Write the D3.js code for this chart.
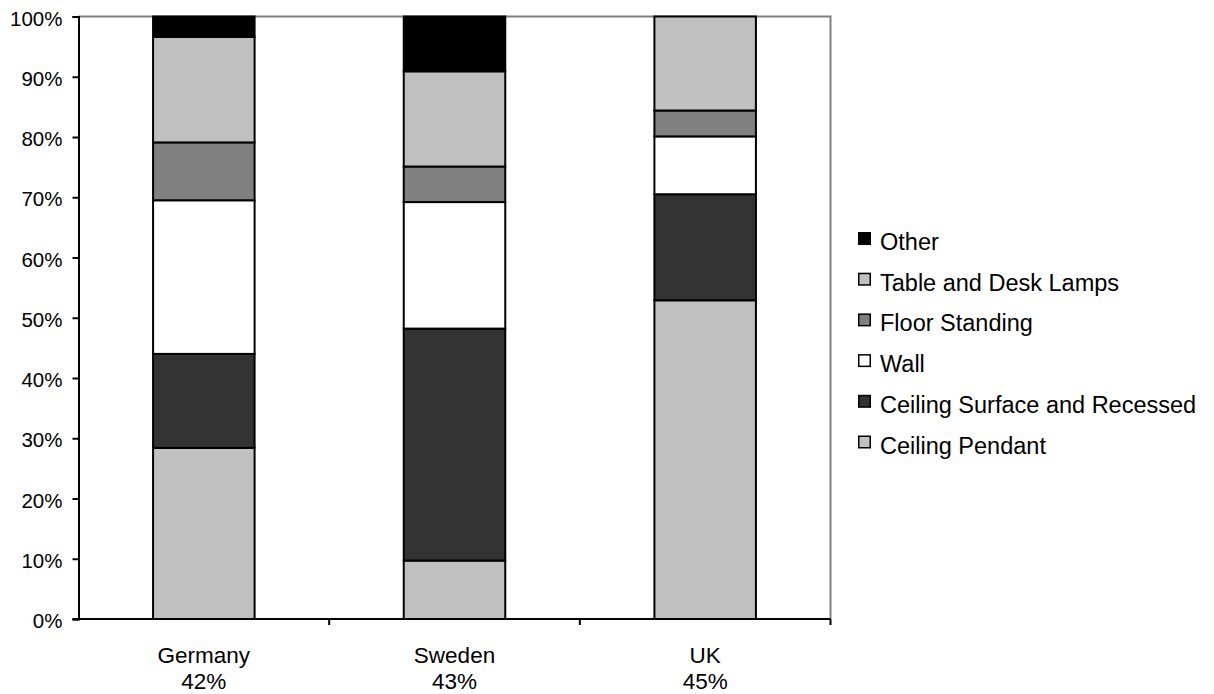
<!DOCTYPE html>
<html>
<head>
<meta charset="utf-8">
<script src="https://cdn.jsdelivr.net/npm/d3@7"></script>
<style>
  html, body { margin: 0; padding: 0; background: #fff; }
  svg { display: block; font-family: Arial, "Liberation Sans", sans-serif; }
</style>
</head>
<body>
<svg id="chart" width="1214" height="694"></svg>
<script>
// Market split of decorative lighting by product type (per cent of each country's total)
const countries = ["Germany", "Sweden", "UK"];
const countryShares = ["42%", "43%", "45%"];
const seriesNames = ["Ceiling Pendant", "Ceiling Surface and Recessed", "Wall", "Floor Standing", "Table and Desk Lamps", "Other"];
const ceilingPendant = [28.4, 9.7, 52.9];
const ceilingSurface = [15.6, 38.5, 17.6];
const wall = [25.5, 21.0, 9.6];
const floorStanding = [9.6, 5.9, 4.3];
const tableDesk = [17.5, 15.8, 15.6];
const other = [3.4, 9.1, 0];
const yTicks = [0, 0.1, 0.2, 0.3, 0.4, 0.5, 0.6, 0.7, 0.8, 0.9, 1];

const seriesValues = [ceilingPendant, ceilingSurface, wall, floorStanding, tableDesk, other];
const fills = ["#c0c0c0", "#333333", "#ffffff", "#808080", "#c0c0c0", "#000000"];

const rows = countries.map((c, i) => {
  const r = { country: c };
  seriesNames.forEach((s, k) => { r[s] = seriesValues[k][i]; });
  return r;
});

const svg = d3.select("#chart");
const plot = { left: 78.5, top: 16.5, right: 830.5, bottom: 619 };

const x = d3.scaleBand().domain(countries).range([plot.left, plot.right]).paddingInner(0).paddingOuter(0);
const y = d3.scaleLinear().domain([0, 1]).range([plot.bottom, plot.top]);
const color = d3.scaleOrdinal().domain(seriesNames).range(fills);

const stacked = d3.stack().keys(seriesNames).offset(d3.stackOffsetExpand)(rows);

// plot area frame: grey top and right edges
svg.append("path")
  .attr("d", `M${plot.left},${plot.top}H${plot.right}V${plot.bottom}`)
  .attr("fill", "none").attr("stroke", "#808080").attr("stroke-width", 2);

const barW = x.bandwidth() * 0.405;
svg.append("g").selectAll("g")
  .data(stacked)
  .join("g")
  .attr("fill", d => color(d.key))
  .selectAll("rect")
  .data(d => d)
  .join("rect")
  .attr("x", d => x(d.data.country) + (x.bandwidth() - barW) / 2)
  .attr("width", barW)
  .attr("y", d => y(d[1]))
  .attr("height", d => y(d[0]) - y(d[1]))
  .attr("stroke", "#000")
  .attr("stroke-width", 2);

// y axis
const yAxis = svg.append("g")
  .attr("transform", `translate(${plot.left},0)`)
  .call(d3.axisLeft(y).tickValues(yTicks).tickFormat(d3.format(".0%")).tickSize(6).tickPadding(10));
yAxis.select(".domain").attr("stroke", "#000").attr("stroke-width", 2);
yAxis.selectAll(".tick line").attr("stroke", "#000").attr("stroke-width", 2);
yAxis.selectAll(".tick text").attr("font-size", 20.5).attr("fill", "#000")
  .attr("y", 2)
  .attr("font-family", "Arial, 'Liberation Sans', sans-serif");

// x axis: ticks at category boundaries
const xAxisG = svg.append("g").attr("transform", `translate(0,${plot.bottom})`);
xAxisG.append("line")
  .attr("x1", plot.left - 6).attr("x2", plot.right)
  .attr("stroke", "#000").attr("stroke-width", 2);
const boundaries = countries.map(c => x(c)).concat([x(countries[countries.length - 1]) + x.bandwidth()]);
xAxisG.selectAll("line.tick")
  .data(boundaries.slice(1))
  .join("line")
  .attr("class", "tick")
  .attr("x1", d => d).attr("x2", d => d)
  .attr("y1", 0).attr("y2", 6)
  .attr("stroke", "#000").attr("stroke-width", 2);

const labels = xAxisG.selectAll("text.cat")
  .data(countries)
  .join("text")
  .attr("class", "cat")
  .attr("text-anchor", "middle")
  .attr("font-size", 22.5)
  .attr("fill", "#000");
labels.append("tspan")
  .attr("x", d => x(d) + x.bandwidth() / 2)
  .attr("y", 44)
  .text(d => d);
labels.append("tspan")
  .attr("x", d => x(d) + x.bandwidth() / 2)
  .attr("y", 70)
  .text((d, i) => countryShares[i]);

// legend, top entry is the top of the stack
const legend = svg.append("g").attr("transform", "translate(858,232)");
const legendItems = seriesNames.slice().reverse();
const item = legend.selectAll("g")
  .data(legendItems)
  .join("g")
  .attr("transform", (d, i) => `translate(0,${i * 40.7})`);
item.append("rect")
  .attr("x", 0.75).attr("y", 0.75)
  .attr("width", 11.5).attr("height", 11.5)
  .attr("fill", d => color(d))
  .attr("stroke", "#000").attr("stroke-width", 1.5);
item.append("text")
  .attr("x", 22)
  .attr("y", 18)
  .attr("font-size", 23.5)
  .attr("fill", "#000")
  .text(d => d);
</script>
</body>
</html>
